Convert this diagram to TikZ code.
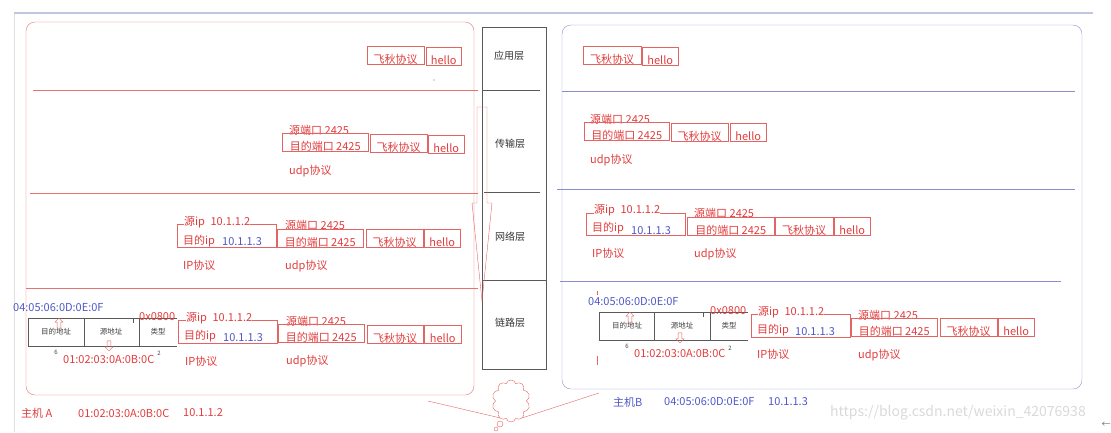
\documentclass[tikz,border=0pt]{standalone}
\usepackage{fontspec}
\setmainfont{Noto Sans CJK SC}
\usepackage{tikz}
\usetikzlibrary{shapes.symbols,shapes.arrows}
\definecolor{txtred}{RGB}{226,60,60}
\definecolor{boxred}{RGB}{228,100,100}
\definecolor{hostred}{RGB}{230,115,115}
\definecolor{txtblue}{RGB}{78,88,200}
\definecolor{hostblue}{RGB}{140,140,205}
\definecolor{topgray}{RGB}{190,200,222}
\newcommand\pktfont{\fontsize{11}{13}\selectfont}
\newcommand\cellfont{\fontsize{7.5}{9}\selectfont}

\begin{document}
\begin{tikzpicture}[x=1pt,y=-1pt,
  lbl/.style={text=txtred,font=\pktfont,anchor=west,inner sep=0pt},
  ipv/.style={lbl,text=txtblue},
  pkt/.style={draw=boxred,text=txtred,font=\pktfont,anchor=north west,inner xsep=1pt,inner ysep=0.5pt,text height=17pt,text depth=0pt},
  ipbox/.style={draw=boxred,anchor=north west,inner sep=0pt,minimum width=99pt},
  cell/.style={text=black!75,font=\cellfont,inner sep=0pt},
  layer/.style={text=black!80,font=\fontsize{10}{12}\selectfont,inner sep=0pt},
  marr/.style={single arrow,draw=boxred,minimum height=10pt,minimum width=8pt,single arrow head extend=2pt,inner sep=1.5pt}]
\useasboundingbox (0,0) rectangle (1111,432);

\draw[topgray,line width=2.5pt] (14,13) -- (1093,13);
\draw[black!12,line width=1pt] (14,14) -- (14,432);

\draw[hostred,rounded corners=9pt] (26,22) rectangle (474,395);
\draw[hostred] (33,90) -- (478,90);
\draw[hostred] (30,193) -- (478,193);
\draw[hostred] (26,288) -- (478,288);

\draw[hostblue,rounded corners=9pt] (562,25) rectangle (1082,389);
\draw[hostblue] (562,91) -- (1075,91);
\draw[hostblue] (557,189) -- (1075,189);
\draw[hostblue] (560,281) -- (1061,281);

\draw[black!65] (482,27) rectangle (546,369);
\draw[black!65] (482,90) -- (540,90);
\draw[black!65] (484,192) -- (540,192);
\draw[black!65] (482,280) -- (546,280);
\node[layer] (L1) at (509,56) {应用层};
\node[layer] (L2) at (510,144) {传输层};
\node[layer] (L3) at (510,237) {网络层};
\node[layer] (L4) at (510,323) {链路层};

\draw[boxred] (477,107) -- (487,107) -- (487,203) -- (492,203) -- (482,301) -- (472,203) -- (477,203) -- cycle;

\node[pkt,minimum width=57pt] (fqA1) at (367,46) {飞秋协议};
\node[pkt,minimum width=35pt] (hiA1) at (426,47) {hello};
\fill[black!60] (434,80) circle [radius=0.6];

\node[lbl] (spA2) at (289,130) {源端口 2425};
\node[pkt,minimum width=86pt] (dpA2) at (282,133) {目的端口 2425};
\node[pkt,minimum width=57pt] (fqA2) at (370,134) {飞秋协议};
\node[pkt,minimum width=36pt] (hiA2) at (428,135) {hello};
\node[lbl] (udA2) at (289,171) {udp协议};

\node[ipbox,minimum height=23pt] (ipA3) at (177,224) {};
\node[lbl,fill=white] (siA3) at (184,222) {源ip\enspace 10.1.1.2};
\node[lbl] (diA3) at (183,241) {目的ip};
\node[ipv,fill=white,inner xsep=3pt] (dvA3) at (219,242) {10.1.1.3};
\node[lbl] (spA3) at (285,225) {源端口 2425};
\node[pkt,minimum width=86pt] (dpA3) at (277,229) {目的端口 2425};
\node[pkt,minimum width=57pt] (fqA3) at (366,229) {飞秋协议};
\node[pkt,minimum width=36pt] (hiA3) at (424,229) {hello};
\node[lbl] (ilA3) at (183,265) {IP协议};
\node[lbl] (ulA3) at (285,266) {udp协议};

\node[ipv] (mdA4) at (13,308) {04:05:06:0D:0E:0F};
\draw[black!65] (177,318) -- (28,318) -- (28,346) -- (177,346);
\draw[black!65] (84,318) -- (84,346);
\draw[black!65] (139,318) -- (139,346);
\draw[black!65] (133,319) -- (133,323);
\node[cell] (c1A) at (56,332) {目的地址};
\node[cell] (c2A) at (111,332) {源地址};
\node[cell] (c3A) at (158,332) {类型};
\node[cell,font=\fontsize{6}{7}\selectfont] (n6A) at (56,352) {6};
\node[cell,font=\fontsize{6}{7}\selectfont] (n2A) at (159,353) {2};
\node[marr,shape border rotate=90] (upA) at (59,324) {};
\node[marr,shape border rotate=270] (dnA) at (109,345) {};
\node[lbl] (msA4) at (63,359) {01:02:03:0A:0B:0C};
\node[lbl] (tyA4) at (139,317) {0x0800};
\node[ipbox,minimum height=23pt] (ipA4) at (178,320) {};
\node[lbl,fill=white] (siA4) at (186,318) {源ip\enspace 10.1.1.2};
\node[lbl] (diA4) at (184,336) {目的ip};
\node[ipv,fill=white,inner xsep=3pt] (dvA4) at (220,338) {10.1.1.3};
\node[lbl] (spA4) at (286,321) {源端口 2425};
\node[pkt,minimum width=86pt] (dpA4) at (278,324) {目的端口 2425};
\node[pkt,minimum width=56pt] (fqA4) at (367,325) {飞秋协议};
\node[pkt,minimum width=37pt] (hiA4) at (424,325) {hello};
\node[lbl] (ilA4) at (185,361) {IP协议};
\node[lbl] (ulA4) at (286,361) {udp协议};

\node[lbl] (hA) at (21,413) {主机 A};
\node[lbl] (maA) at (78,413) {01:02:03:0A:0B:0C};
\node[lbl] (iaA) at (183,413) {10.1.1.2};

\node[pkt,minimum width=58pt] (fqB1) at (583,46) {飞秋协议};
\node[pkt,minimum width=36pt] (hiB1) at (642,47) {hello};

\node[lbl] (spB2) at (590,119) {源端口 2425};
\node[pkt,minimum width=85pt] (dpB2) at (584,122) {目的端口 2425};
\node[pkt,minimum width=57pt] (fqB2) at (671,123) {飞秋协议};
\node[pkt,minimum width=36pt] (hiB2) at (730,123) {hello};
\node[lbl] (udB2) at (590,160) {udp协议};

\node[ipbox,minimum height=22pt] (ipB3) at (586,213) {};
\node[lbl,fill=white] (siB3) at (594,210) {源ip\enspace 10.1.1.2};
\node[lbl] (diB3) at (592,228) {目的ip};
\node[ipv,fill=white,inner xsep=3pt] (dvB3) at (628,231) {10.1.1.3};
\node[lbl] (spB3) at (694,213) {源端口 2425};
\node[pkt,minimum width=87pt] (dpB3) at (687,217) {目的端口 2425};
\node[pkt,minimum width=58pt] (fqB3) at (775,217) {飞秋协议};
\node[pkt,minimum width=36pt] (hiB3) at (834,217) {hello};
\node[lbl] (ilB3) at (592,253) {IP协议};
\node[lbl] (ulB3) at (694,254) {udp协议};

\draw[boxred] (597,291) -- (597,295);
\node[ipv] (mdB4) at (588,302) {04:05:06:0D:0E:0F};
\draw[black!65] (748,312) -- (599,312) -- (599,340) -- (748,340);
\draw[black!65] (654,312) -- (654,340);
\draw[black!65] (710,312) -- (710,340);
\draw[black!65] (703,312) -- (703,317);
\node[cell] (c1B) at (627,326) {目的地址};
\node[cell] (c2B) at (682,326) {源地址};
\node[cell] (c3B) at (729,326) {类型};
\node[cell,font=\fontsize{6}{7}\selectfont] (n6B) at (627,346) {6};
\node[cell,font=\fontsize{6}{7}\selectfont] (n2B) at (730,348) {2};
\node[marr,shape border rotate=90] (upB) at (630,318) {};
\node[marr,shape border rotate=270] (dnB) at (680,337) {};
\node[lbl] (msB4) at (634,353) {01:02:03:0A:0B:0C};
\node[lbl] (tyB4) at (710,311) {0x0800};
\node[ipbox,minimum height=23pt] (ipB4) at (751,314) {};
\node[lbl,fill=white] (siB4) at (758,312) {源ip\enspace 10.1.1.2};
\node[lbl] (diB4) at (757,330) {目的ip};
\node[ipv,fill=white,inner xsep=3pt] (dvB4) at (792,332) {10.1.1.3};
\node[lbl] (spB4) at (858,315) {源端口 2425};
\node[pkt,minimum width=86pt] (dpB4) at (851,318) {目的端口 2425};
\node[pkt,minimum width=57pt] (fqB4) at (940,318) {飞秋协议};
\node[pkt,minimum width=36pt] (hiB4) at (998,318) {hello};
\node[lbl] (ilB4) at (757,354) {IP协议};
\node[lbl] (ulB4) at (858,355) {udp协议};
\draw[boxred] (597,356) -- (597,365);

\node[ipv] (hB) at (613,402) {主机B};
\node[ipv] (maB) at (664,402) {04:05:06:0D:0E:0F};
\node[ipv] (iaB) at (768,402) {10.1.1.3};

\node[cloud,draw=boxred,cloud puffs=10,cloud ignores aspect,minimum width=38pt,minimum height=42pt,inner sep=0pt] (net) at (511,401) {};
\draw[boxred] (500,424) circle [radius=3];
\draw[boxred] (496,429) circle [radius=2];
\coordinate (ea) at (428,401);
\coordinate (eb) at (599,393);
\draw[boxred] (ea) -- (net.235);
\draw[boxred] (net.305) -- (eb);

\node[text=black!15,font=\fontsize{14}{16}\selectfont,anchor=west,inner sep=0pt] (wm) at (830,413) {https://blog.csdn.net/weixin\_42076938};
\node[text=black!55,font=\fontsize{9}{10}\selectfont,inner sep=0pt] (arr) at (1106,425) {←};
\end{tikzpicture}
\end{document}
